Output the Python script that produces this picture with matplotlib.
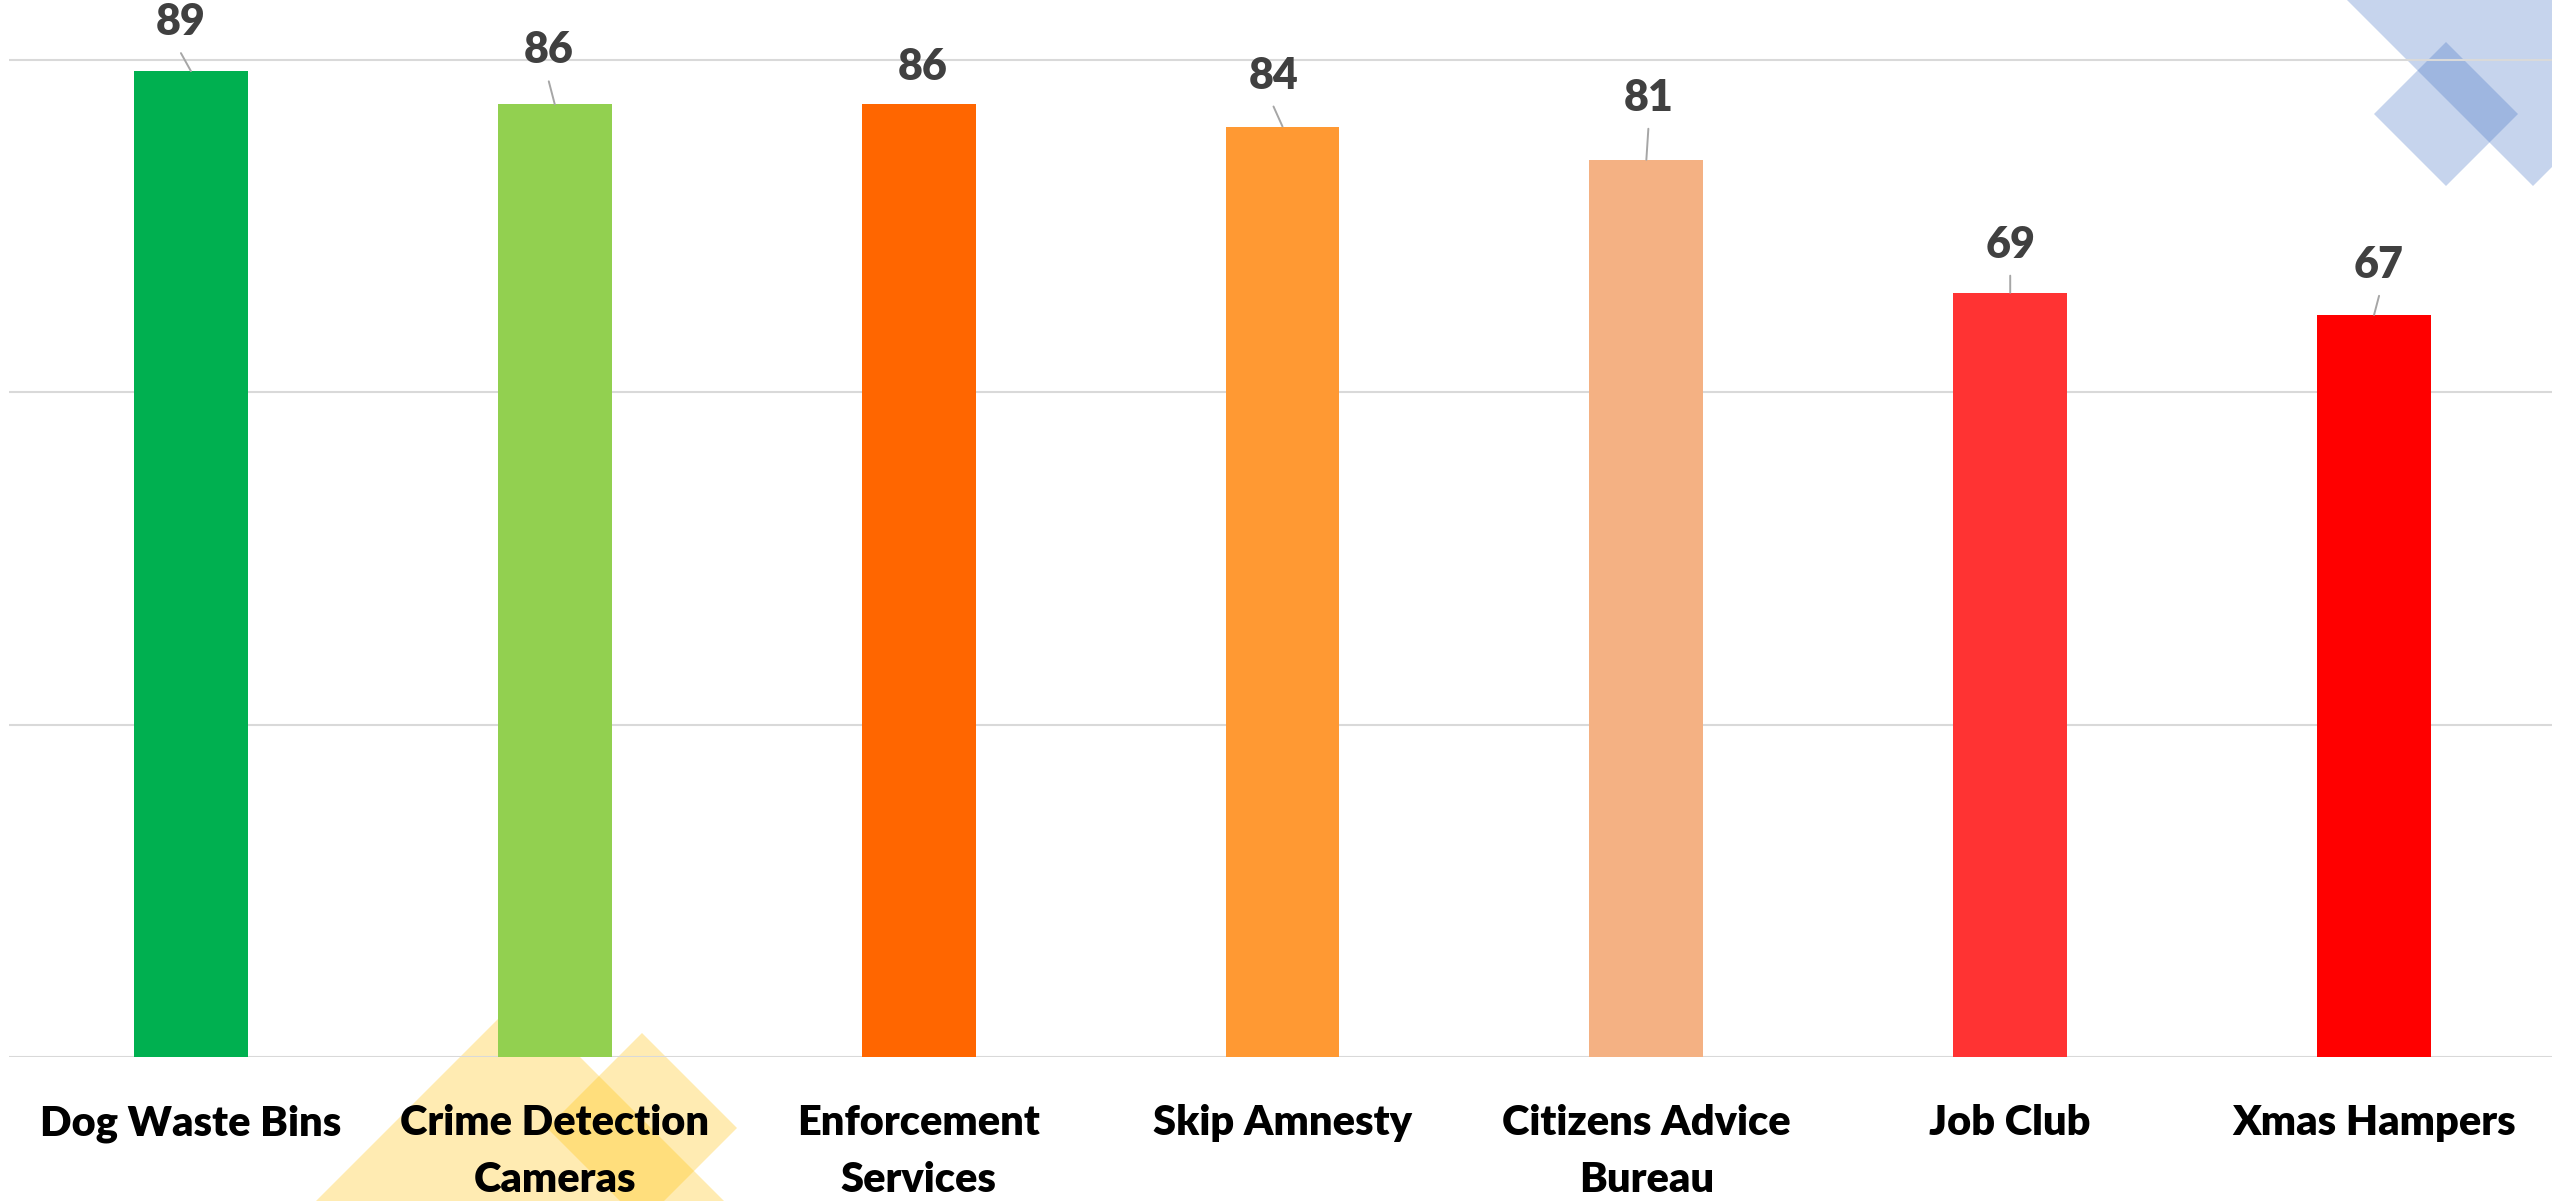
import matplotlib.pyplot as plt
from matplotlib.patches import Polygon
import numpy as np

plt.rcParams['font.family'] = ['Lato', 'DejaVu Sans']

categories = ['Dog Waste Bins', 'Crime Detection\nCameras', 'Enforcement\nServices',
              'Skip Amnesty', 'Citizens Advice\nBureau', 'Job Club', 'Xmas Hampers']
values = [89, 86, 86, 84, 81, 69, 67]
colors = ['#00B050', '#92D050', '#FF6600', '#FF9933', '#F4B183', '#FF3333', '#FF0000']

# label offsets from bar top (pixels): dx, dy, draw leader?
label_offsets = [(-10, 49, True), (-6, 54, True), (4, 37, False), (-9, 51, True),
                 (2, 62, True), (0, 48, True), (5, 50, True)]

W, H = 2552, 1201
fig = plt.figure(figsize=(W / 100, H / 100), dpi=100)

# decorative background diamonds (pixel coordinates)
bg = fig.add_axes([0, 0, 1, 1], zorder=0)
bg.set_xlim(0, W)
bg.set_ylim(H, 0)
bg.axis('off')


def diamond(cx, cy, h, color):
    pts = [(cx, cy - h), (cx + h, cy), (cx, cy + h), (cx - h, cy)]
    bg.add_patch(Polygon(pts, closed=True, facecolor=color, alpha=0.3, lw=0))


diamond(2533, -64, 250, '#4472C4')
diamond(2446, 114, 72, '#4472C4')
diamond(520, 1257, 260, '#FFC000')
diamond(642, 1128, 95, '#FFC000')

ax = fig.add_axes([9 / W, 144 / H, 2547 / W, 1057 / H], zorder=1)
ax.patch.set_alpha(0)

x = np.arange(len(values))
ax.bar(x, values, width=0.313, color=colors, zorder=3)

ax.set_xlim(-0.5, 6.5)
ax.set_ylim(0, 95.42)
ax.set_yticks([0, 30, 60, 90])
ax.yaxis.grid(True, color='#D9D9D9', lw=1.5, zorder=0)
ax.set_yticklabels([])
ax.tick_params(axis='y', length=0)
for s in ax.spines.values():
    s.set_visible(False)

ax.set_xticks(x)
ax.set_xticklabels(categories, fontsize=30, fontweight='heavy', color='black',
                   linespacing=1.6)
ax.tick_params(axis='x', length=0, pad=34)

for i, v in enumerate(values):
    dx, dy, leader = label_offsets[i]
    ax.annotate(str(v), xy=(i, v), xytext=(dx, dy), textcoords='offset pixels',
                ha='center', va='center', fontsize=31, fontweight='heavy',
                color='#404040', zorder=5)
    if leader:
        ax.annotate('', xy=(i, v), xytext=(dx, dy - 31), textcoords='offset pixels',
                    arrowprops=dict(arrowstyle='-', color='#A6A6A6', lw=1.4,
                                    shrinkA=0, shrinkB=0), zorder=4)

fig.savefig('out.png', dpi=100)
